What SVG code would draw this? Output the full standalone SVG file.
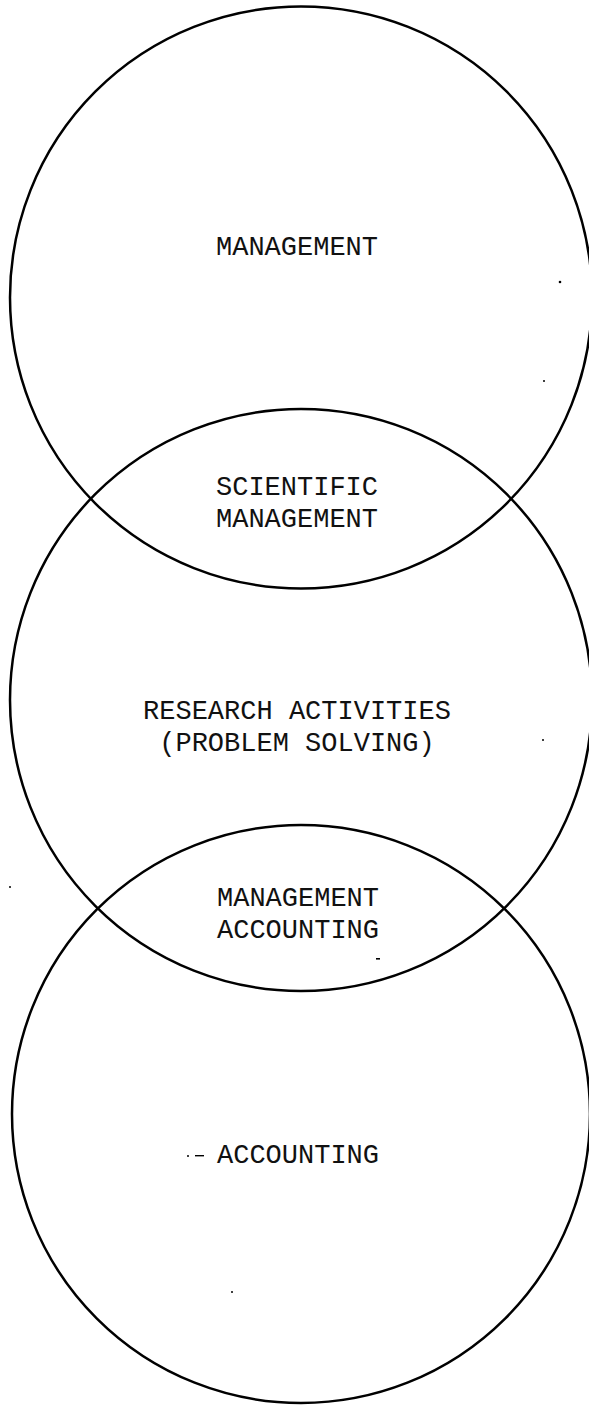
<svg xmlns="http://www.w3.org/2000/svg" width="589" height="1405" viewBox="0 0 589 1405">
<style>
.c{fill:none;stroke:#000;stroke-width:2.5}
.t{font-family:"Liberation Mono","DejaVu Sans Mono",monospace;font-size:27px;fill:#111;text-anchor:middle;dominant-baseline:central}
.d{fill:#000}
</style>
<rect width="589" height="1405" fill="#fff"/>
<g id="management">
<circle class="c" cx="301" cy="297.5" r="291"/>
<text class="t" x="297" y="248">MANAGEMENT</text>
</g>
<g id="research">
<circle class="c" cx="301" cy="700" r="291"/>
<text class="t" x="297" y="712">RESEARCH ACTIVITIES</text>
<text class="t" x="297" y="744">(PROBLEM SOLVING)</text>
</g>
<g id="accounting">
<circle class="c" cx="301" cy="1114" r="289"/>
<text class="t" x="298" y="1156">ACCOUNTING</text>
</g>
<g id="scientific-management">
<text class="t" x="297" y="488">SCIENTIFIC</text>
<text class="t" x="297" y="520">MANAGEMENT</text>
</g>
<g id="management-accounting">
<text class="t" x="298" y="899">MANAGEMENT</text>
<text class="t" x="298" y="931">ACCOUNTING</text>
</g>
<g id="connectors"></g>
<g id="specks">
<circle class="d" cx="560" cy="282" r="1.3"/>
<circle class="d" cx="544" cy="381" r="1"/>
<circle class="d" cx="543" cy="740" r="1"/>
<rect class="d" x="376" y="958" width="4" height="1.6"/>
<circle class="d" cx="10" cy="887" r="1"/>
<circle class="d" cx="188" cy="1156" r="1"/>
<rect class="d" x="195" y="1155" width="9" height="1.4"/>
<circle class="d" cx="232" cy="1292" r="1"/>
</g>
</svg>
